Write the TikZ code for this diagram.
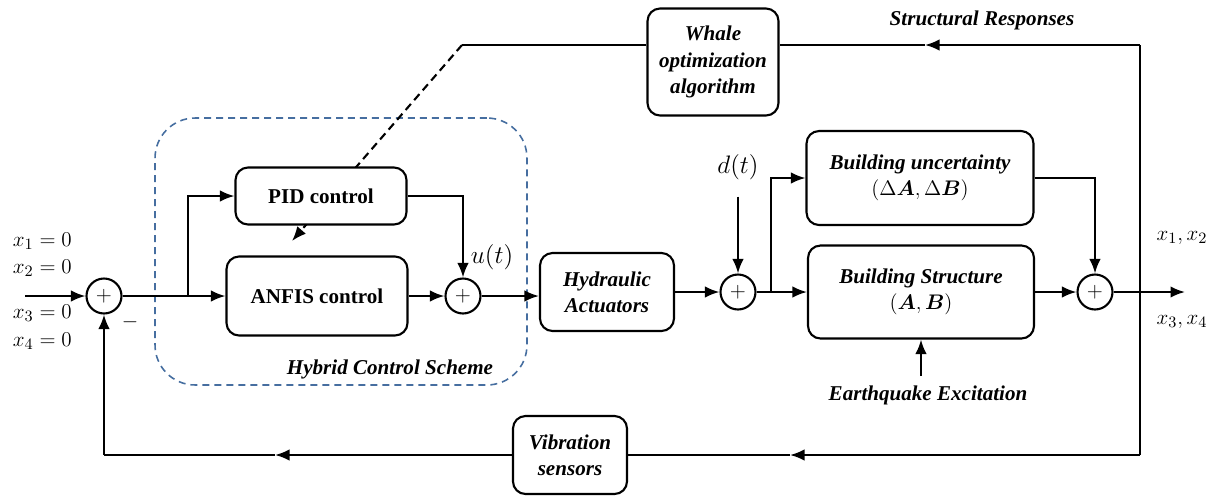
\documentclass[tikz,border=0pt]{standalone}
\usepackage{amsmath}
\usepackage{fontspec}
\setmainfont{Liberation Serif}
\usetikzlibrary{arrows.meta}
\definecolor{schemeblue}{RGB}{70,110,160}
\begin{document}
\begin{tikzpicture}[x=0.02cm,y=-0.02cm,line width=1.2pt,>={Latex[length=2.9mm,width=2.3mm]}]
		\tikzstyle{block}=[draw,rounded corners=0.25cm,fill=white,align=center,inner sep=2pt,font=\fontsize{12}{15}\selectfont\bfseries\itshape]
		\tikzstyle{sumnode}=[draw,circle,fill=white,minimum size=0.7cm,inner sep=0pt,font=\fontsize{12}{12}\selectfont]
		\tikzstyle{lbl}=[font=\fontsize{12}{14}\selectfont\bfseries\itshape]
		\tikzstyle{mathlbl}=[font=\fontsize{13}{15}\selectfont]
		\useasboundingbox (0,0) rectangle (1214,495);
		\node[draw=schemeblue,dashed,dash pattern=on 0.14cm off 0.1cm,line width=0.9pt,rounded corners=0.8cm,minimum width=7.44cm,minimum height=5.34cm] (hybrid) at (341,251.5) {};
		\coordinate (w_turn) at (462,45);
		\coordinate (w_tip) at (292,241);
		\draw[->,dashed,dash pattern=on 0.16cm off 0.1cm] (w_turn) -- (w_tip);
		\node[sumnode] (sum_1) at (104,296) {$+$};
		\node[block,font=\fontsize{12}{15}\selectfont\bfseries,minimum width=3.42cm,minimum height=1.14cm] (pid) at (321,196) {PID control};
		\node[block,font=\fontsize{12}{15}\selectfont\bfseries,minimum width=3.62cm,minimum height=1.58cm] (anfis) at (317,296) {ANFIS control};
		\node[sumnode] (sum_2) at (463,296) {$+$};
		\node[block,minimum width=2.68cm,minimum height=1.56cm] (hyd) at (607,292) {Hydraulic\\Actuators};
		\node[sumnode] (sum_3) at (738,292) {$+$};
		\node[block,minimum width=4.54cm,minimum height=1.88cm] (unc) at (920,178) {Building uncertainty\\$(\Delta\boldsymbol{A},\Delta\boldsymbol{B})$};
		\node[block,minimum width=4.52cm,minimum height=1.86cm] (struct) at (921,292) {Building Structure\\$(\boldsymbol{A},\boldsymbol{B})$};
		\node[sumnode] (sum_4) at (1095,292) {$+$};
		\node[block,minimum width=2.62cm,minimum height=2.14cm] (whale) at (713,62) {Whale\\optimization\\algorithm};
		\node[block,minimum width=2.28cm,minimum height=1.56cm] (vib) at (570,455) {Vibration\\sensors};
		% labels
		\node[lbl] (hybrid_lbl) at (390,369) {Hybrid Control Scheme};
		\node[lbl] (resp_lbl) at (982,20) {Structural Responses};
		\node[lbl] (quake_lbl) at (928,395) {Earthquake Excitation};
		\node[mathlbl,font=\fontsize{14}{16}\selectfont] (u_lbl) at (492,257) {$u(t)$};
		\node[mathlbl,font=\fontsize{14}{16}\selectfont] (d_lbl) at (738,167) {$d(t)$};
		\node[mathlbl] (y12_lbl) at (1182,238) {$x_1,x_2$};
		\node[mathlbl] (y34_lbl) at (1182,322) {$x_3,x_4$};
		\node[mathlbl,anchor=west] (x1_lbl) at (6,241) {$x_1=0$};
		\node[mathlbl,anchor=west] (x2_lbl) at (6,268) {$x_2=0$};
		\node[mathlbl,anchor=west] (x3_lbl) at (6,313) {$x_3=0$};
		\node[mathlbl,anchor=west] (x4_lbl) at (6,341) {$x_4=0$};
		\node[mathlbl] (minus_lbl) at (130,322) {$-$};
		% connector points
		\coordinate (in) at (25,296);
		\coordinate (br_1) at (188,296);
		\coordinate (br_2) at (771,292);
		\coordinate (out) at (1185,292);
		\coordinate (fb_mid) at (1140,292);
		\coordinate (fb_top) at (1140,45);
		\coordinate (fb_bot) at (1140,455);
		\coordinate (arr_top) at (925,45);
		\coordinate (arr_bot_1) at (790,455);
		\coordinate (arr_bot_2) at (275,455);
		\coordinate (fb_left) at (104,455);
		% forward path
		\draw[->] (in) -- (sum_1);
		\draw (sum_1) -- (br_1);
		\draw[->] (br_1) -- (anfis);
		\draw[->] (br_1) |- (pid);
		\draw[->] (anfis) -- (sum_2);
		\draw[->] (pid) -| (sum_2);
		\draw[->] (sum_2) -- (sum_2 -| hyd.west);
		\draw[->] (hyd) -- (sum_3);
		\draw[->,shorten <=0.2cm] (d_lbl.south) -- (sum_3);
		\draw (sum_3) -- (br_2);
		\draw[->] (br_2) -- (struct);
		\draw[->] (br_2) |- (unc);
		\draw[->] (unc) -| (sum_4);
		\draw[->] (struct) -- (sum_4);
		\draw[->] (sum_4) -- (out);
		\draw[->,shorten <=0.05cm] (quake_lbl.north -| struct.south) -- (struct);
		% feedback paths
		\draw (fb_mid) -- (fb_top);
		\draw[->] (fb_top) -- (arr_top);
		\draw (arr_top) -- (arr_top -| whale.east);
		\draw (whale.west |- w_turn) -- (w_turn);
		\draw (fb_mid) -- (fb_bot);
		\draw[->] (fb_bot) -- (arr_bot_1);
		\draw (arr_bot_1) -- (vib);
		\draw[->] (vib) -- (arr_bot_2);
		\draw (arr_bot_2) -- (fb_left);
		\draw[->] (fb_left) -- (sum_1);
	\end{tikzpicture}
\end{document}
